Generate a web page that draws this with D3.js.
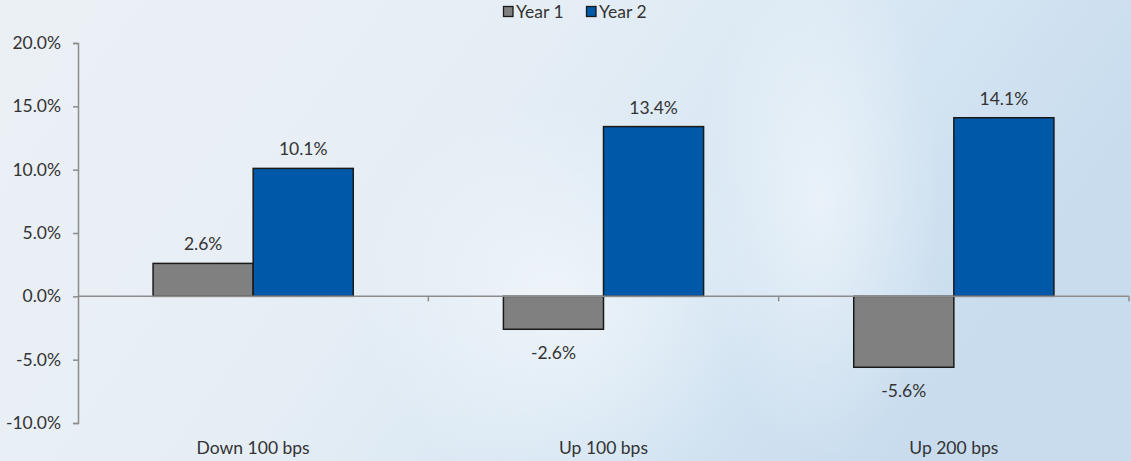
<!DOCTYPE html>
<html>
<head>
<meta charset="utf-8">
<script src="https://cdn.jsdelivr.net/npm/d3@7"></script>
<style>
  html, body { margin: 0; padding: 0; }
  body { width: 1131px; height: 461px; overflow: hidden; }
  text { font-family: Lato, "Open Sans", sans-serif; fill: #333; }
</style>
</head>
<body>
<svg id="chart" width="1131" height="461"></svg>
<script>
// Rate-shock scenarios and the change for each year
const scenarios = ["Down 100 bps", "Up 100 bps", "Up 200 bps"];
const seriesNames = ["Year 1", "Year 2"];
const year1 = [2.6, -2.6, -5.6];
const year2 = [10.1, 13.4, 14.1];
const yTicks = [-10, -5, 0, 5, 10, 15, 20];
const colors = ["#808080", "#0058a8"];

const W = 1131, H = 461;
const margin = { left: 78, right: 2, top: 43, bottom: 38 };
const FS = 17.5;

const svg = d3.select("#chart");

// Soft blue backdrop
const defs = svg.append("defs");
const bg = defs.append("linearGradient").attr("id", "bg")
  .attr("x1", "0").attr("y1", "0").attr("x2", "1").attr("y2", "0.3");
bg.append("stop").attr("offset", "0").attr("stop-color", "#ebf0f5");
bg.append("stop").attr("offset", "0.45").attr("stop-color", "#e6eef5");
bg.append("stop").attr("offset", "0.75").attr("stop-color", "#d6e6f3");
bg.append("stop").attr("offset", "1").attr("stop-color", "#c8dcee");
svg.append("rect").attr("width", W).attr("height", H).attr("fill", "url(#bg)");

const glow = defs.append("radialGradient").attr("id", "glow")
  .attr("cx", "0.5").attr("cy", "0.5").attr("r", "0.5");
glow.append("stop").attr("offset", "0").attr("stop-color", "#ffffff").attr("stop-opacity", 0.5);
glow.append("stop").attr("offset", "1").attr("stop-color", "#ffffff").attr("stop-opacity", 0);
svg.append("ellipse").attr("cx", 820).attr("cy", 200).attr("rx", 120).attr("ry", 260)
  .attr("fill", "url(#glow)");
svg.append("ellipse").attr("cx", 560).attr("cy", 300).attr("rx", 200).attr("ry", 200)
  .attr("fill", "url(#glow)");

const y = d3.scaleLinear().domain([-10, 20]).range([H - margin.bottom, margin.top]);
const x0 = d3.scaleBand().domain(scenarios).range([margin.left, W - margin.right]).padding(0);
const x1 = d3.scaleBand().domain(seriesNames).range([0, x0.bandwidth()])
  .paddingInner(0).paddingOuter(0.75);

const rows = scenarios.map((s, i) => ({ scenario: s, values: [year1[i], year2[i]] }));

// Y axis
const yAxis = svg.append("g").attr("transform", `translate(${margin.left},0)`)
  .call(d3.axisLeft(y).tickValues(yTicks).tickSize(5).tickPadding(12)
    .tickFormat(d => d.toFixed(1) + "%"));
yAxis.select(".domain").attr("stroke", "#8c8c8c").attr("stroke-width", 1.5);
yAxis.selectAll(".tick line").attr("stroke", "#8c8c8c").attr("stroke-width", 1.5);
yAxis.selectAll("text").attr("font-size", FS).style("fill", "#333");

// Bars
const groups = svg.append("g").selectAll("g").data(rows).join("g")
  .attr("transform", d => `translate(${x0(d.scenario)},0)`);

groups.selectAll("rect").data(d => d.values.map((v, j) => ({ v, j })))
  .join("rect")
  .attr("x", d => x1(seriesNames[d.j]))
  .attr("width", x1.bandwidth())
  .attr("y", d => y(Math.max(0, d.v)))
  .attr("height", d => Math.abs(y(d.v) - y(0)))
  .attr("fill", d => colors[d.j])
  .attr("stroke", "#1a1a1a")
  .attr("stroke-width", 1.5);

// Value labels
groups.selectAll("text.val").data(d => d.values.map((v, j) => ({ v, j })))
  .join("text").attr("class", "val")
  .attr("x", d => x1(seriesNames[d.j]) + x1.bandwidth() / 2)
  .attr("y", d => d.v >= 0 ? y(d.v) - 13 : y(d.v) + 30)
  .attr("text-anchor", "middle")
  .attr("font-size", FS)
  .text(d => d.v.toFixed(1) + "%");

// X axis along zero with category boundary ticks
const xAxisG = svg.append("g");
xAxisG.append("line")
  .attr("x1", margin.left).attr("x2", W - margin.right)
  .attr("y1", y(0)).attr("y2", y(0))
  .attr("stroke", "#8c8c8c").attr("stroke-width", 1.5);
xAxisG.selectAll("line.tk").data(scenarios).join("line").attr("class", "tk")
  .attr("x1", d => x0(d) + x0.bandwidth()).attr("x2", d => x0(d) + x0.bandwidth())
  .attr("y1", y(0)).attr("y2", y(0) + 5)
  .attr("stroke", "#8c8c8c").attr("stroke-width", 1.5);

// Category labels at the bottom
svg.append("g").selectAll("text").data(scenarios).join("text")
  .attr("x", d => x0(d) + x0.bandwidth() / 2)
  .attr("y", H - 7)
  .attr("text-anchor", "middle")
  .attr("font-size", FS)
  .text(d => d);

// Legend
const legend = svg.append("g").attr("transform", "translate(503,3)");
const legendX = [0, 83];
seriesNames.forEach((name, i) => {
  const g = legend.append("g").attr("transform", `translate(${legendX[i]},0)`);
  g.append("rect").attr("x", 0.5).attr("y", 3.5).attr("width", 9.5).attr("height", 10)
    .attr("fill", colors[i]).attr("stroke", "#1a1a1a").attr("stroke-width", 1.3);
  g.append("text").attr("x", 13).attr("y", 15).attr("font-size", FS).text(name);
});
</script>
</body>
</html>
